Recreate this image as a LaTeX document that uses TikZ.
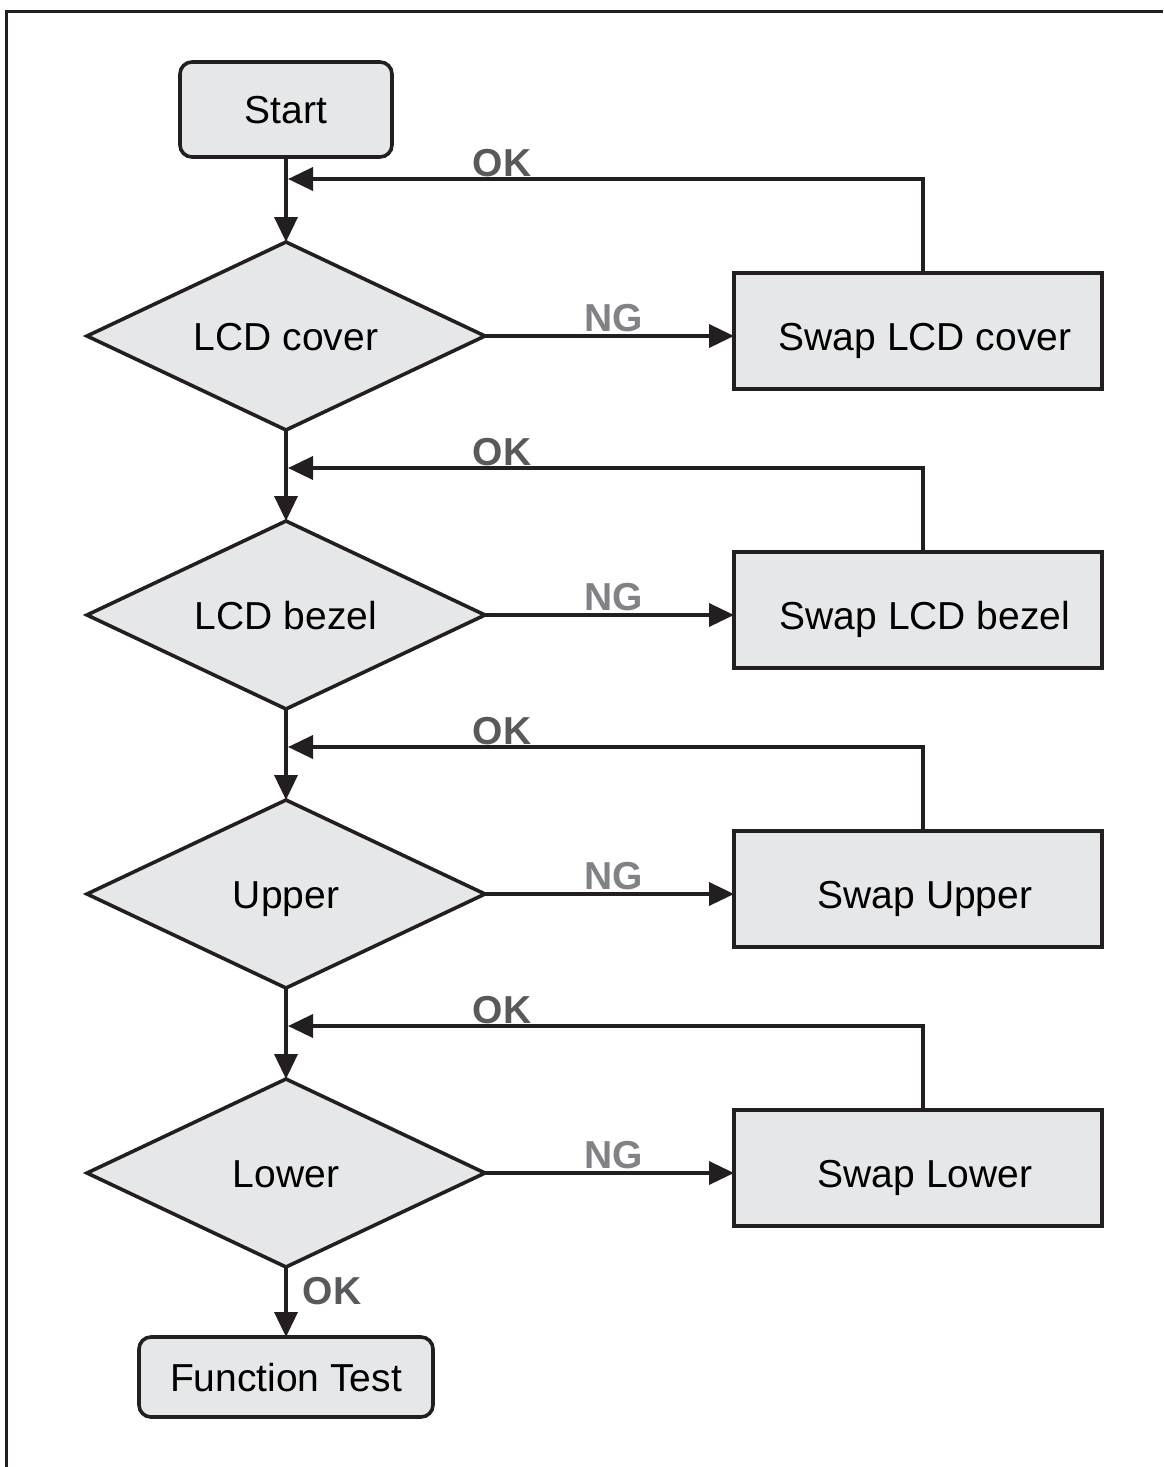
\documentclass[tikz,border=0pt]{standalone}
\usepackage{fontspec}
\setmainfont{Liberation Sans}
\usetikzlibrary{shapes.geometric,arrows.meta,calc}
\definecolor{ln}{HTML}{231F20}
\definecolor{fl}{HTML}{E6E7E8}
\definecolor{okc}{HTML}{58595B}
\definecolor{ngc}{HTML}{808285}
\begin{document}
\begin{tikzpicture}[x=1pt,y=-1pt,
  every node/.style={font=\fontsize{39}{46}\selectfont, text height=28pt, text depth=0pt, inner sep=0pt, outer sep=0pt},
  term/.style={draw=ln, fill=fl, line width=3.6pt, rounded corners=12pt},
  dec/.style={diamond, draw=ln, fill=fl, line width=3.6pt, minimum width=398pt, minimum height=188pt, aspect=2.1},
  swapbox/.style={draw=ln, fill=fl, line width=3.6pt, minimum width=368pt, minimum height=116pt},
  conn/.style={draw=ln, line width=3.6pt},
  arr/.style={conn, -{Triangle[length=25pt,width=23pt]}},
  oklab/.style={text=okc, font=\fontsize{39}{46}\selectfont\bfseries},
  nglab/.style={text=ngc, font=\fontsize{39}{46}\selectfont\bfseries}
]
\useasboundingbox (0,0) rectangle (1163,1467);
\draw[ln, line width=3pt] (6,1467) -- (6,11) -- (1163,11);

% main column
\node[term, minimum width=212pt, minimum height=95pt] (start) at (286,109.5) {Start};
\node[dec] (d1) at (286,336) {LCD cover};
\node[dec] (d2) at (286,615) {LCD bezel};
\node[dec] (d3) at (286,894) {Upper};
\node[dec] (d4) at (286,1173) {Lower};
\node[term, minimum width=294pt, minimum height=80pt] (ft) at (286,1377) {Function Test};

% swap boxes
\node[swapbox] (s1) at (918,331) {};
\node[swapbox] (s2) at (918,610) {};
\node[swapbox] (s3) at (918,889) {};
\node[swapbox] (s4) at (918,1168) {};
\node (t1) at (925,336) {Swap LCD cover};
\node (t2) at (925,615) {Swap LCD bezel};
\node (t3) at (925,894) {Swap Upper};
\node (t4) at (925,1173) {Swap Lower};

% junctions of the OK feedback lines
\coordinate (j1) at (288,179);
\coordinate (j2) at (288,468);
\coordinate (j3) at (288,747);
\coordinate (j4) at (288,1026);

% down arrows
\draw[arr] (start.south) -- (d1.north);
\draw[arr] (d1.south) -- (d2.north);
\draw[arr] (d2.south) -- (d3.north);
\draw[arr] (d3.south) -- (d4.north);
\draw[arr] (d4.south) -- (ft.north);

% NG arrows
\draw[arr] (d1.east) -- (d1.east -| s1.west);
\draw[arr] (d2.east) -- (d2.east -| s2.west);
\draw[arr] (d3.east) -- (d3.east -| s3.west);
\draw[arr] (d4.east) -- (d4.east -| s4.west);

% OK feedback arrows
\draw[arr] ($(s1.north)+(5,0)$) |- (j1);
\draw[arr] ($(s2.north)+(5,0)$) |- (j2);
\draw[arr] ($(s3.north)+(5,0)$) |- (j3);
\draw[arr] ($(s4.north)+(5,0)$) |- (j4);

% labels
\node[oklab] (ok1) at (502,162) {OK};
\node[oklab] (ok2) at (502,451) {OK};
\node[oklab] (ok3) at (502,730) {OK};
\node[oklab] (ok4) at (502,1009) {OK};
\node[oklab] (ok5) at (332,1290) {OK};
\node[nglab] (ng1) at (614,317) {NG};
\node[nglab] (ng2) at (614,596) {NG};
\node[nglab] (ng3) at (614,875) {NG};
\node[nglab] (ng4) at (614,1154) {NG};
\end{tikzpicture}
\end{document}
